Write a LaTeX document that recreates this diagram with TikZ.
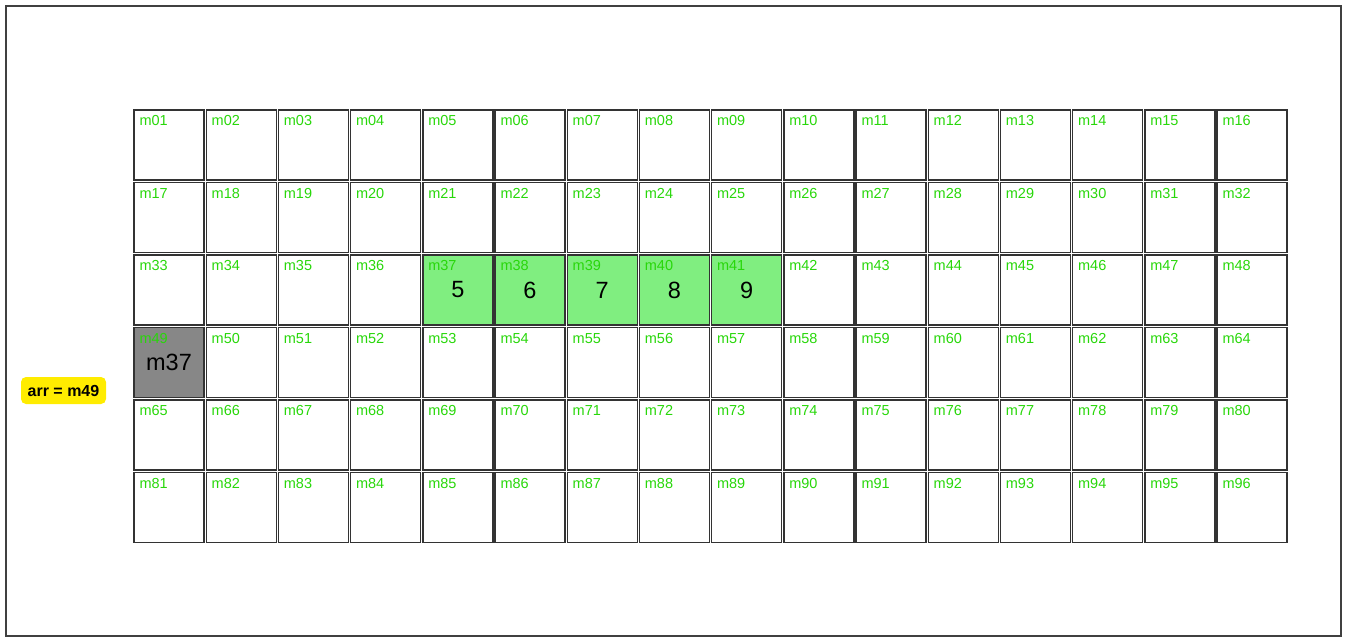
\documentclass[tikz,border=0pt]{standalone}
\usepackage{fontspec}
\setmainfont{Liberation Sans}
\usetikzlibrary{positioning}
\definecolor{hitgreen}{RGB}{128,238,128}
\definecolor{taggreen}{RGB}{40,215,10}
\definecolor{ptryellow}{RGB}{255,236,0}

\begin{document}
\begin{tikzpicture}[
    x=1pt, y=-1pt,
    cell/.style={rectangle,draw=black!80,line width=1.4pt,minimum size=70pt,inner sep=0pt,font=\fontsize{23.5}{25}\selectfont},
    hit/.style={cell,fill=hitgreen},
    cur/.style={cell,fill=black!47},
    tag/.style={text=taggreen,font=\fontsize{14.5}{16}\selectfont,inner sep=0pt,anchor=base west},
    ptr/.style={rectangle,rounded corners=5pt,fill=ptryellow,font=\bfseries\fontsize{16}{18}\selectfont,minimum width=85pt,minimum height=27pt}
]
    \useasboundingbox (0,0) rectangle (1347,642);
    % Frame
    \draw[black!75,line width=1.3pt] (6,6) rectangle (1341,636);

    % Grid of cells
    \foreach \r in {0,...,5}
      \foreach \c in {0,...,15} {
        \pgfmathtruncatemacro{\n}{16*\r+\c+1}
        \edef\lbl{m\ifnum\n<10 0\fi\n}
        \def\sty{cell}\def\val{}
        \ifnum\n>36 \ifnum\n<42 \def\sty{hit}\pgfmathtruncatemacro{\val}{\n-32}\fi\fi
        \ifnum\n=49 \def\sty{cur}\def\val{m37}\fi
        \node[\sty] (\lbl) at ({169+72.2*\c},{145+72.5*\r}) {\val};
        \node[tag] at ([xshift=6pt,yshift=-16.5pt]\lbl.north west) {\lbl};
      }

    % Pointer
    \node[ptr] (arr) at (63.5,390.5) {arr = m49};
\end{tikzpicture}
\end{document}
